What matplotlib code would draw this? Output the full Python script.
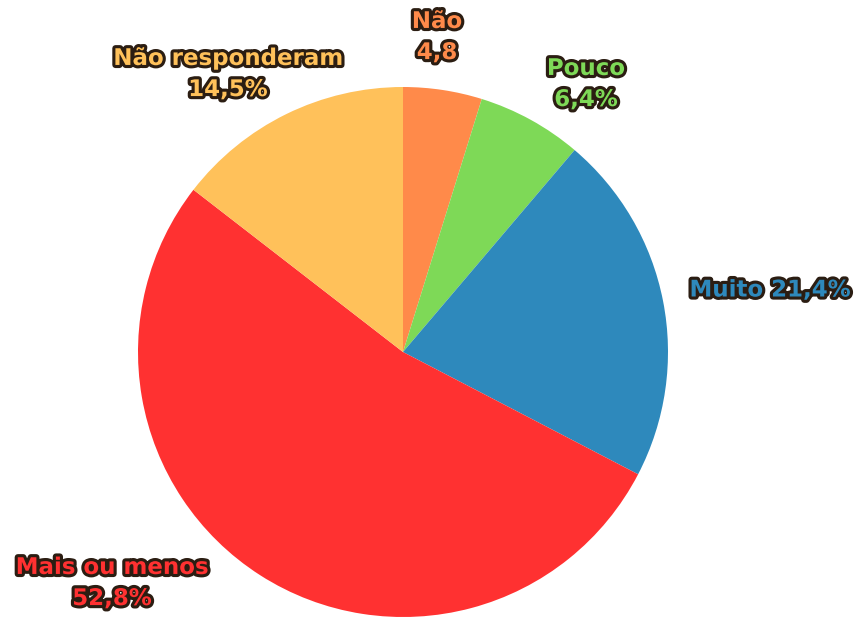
import matplotlib.pyplot as plt
import matplotlib.patheffects as pe

# slices, clockwise from 12 o'clock
labels = ['Não', 'Pouco', 'Muito', 'Mais ou menos', 'Não responderam']
values = [4.8, 6.4, 21.4, 52.8, 14.5]
label_texts = ['Não\n4,8', 'Pouco\n6,4%', 'Muito 21,4%', 'Mais ou menos\n52,8%', 'Não responderam\n14,5%']
colors = ['#FF8A4A', '#7ED957', '#2E89BC', '#FF3131', '#FFC15A']

# label anchor points in figure pixels (from top-left)
label_xy = [(437, 37), (586, 84), (770, 290), (112, 583), (228, 74)]

W, H = 856, 617
fig = plt.figure(figsize=(W / 100, H / 100), dpi=100)
ax = fig.add_axes([0, 0, 1, 1])

ax.pie(values, colors=colors, startangle=90, counterclock=False,
       center=(403, H - 352), radius=265, frame=True,
       wedgeprops=dict(linewidth=0))
ax.set_xlim(0, W)
ax.set_ylim(0, H)
ax.set_aspect('equal')
ax.axis('off')

outline = [pe.withStroke(linewidth=4.5, foreground='#2b1d12')]
for txt, (x, y), c in zip(label_texts, label_xy, colors):
    ax.text(x, H - y, txt, ha='center', va='center', color=c,
            fontsize=16.5, fontweight='bold', family='DejaVu Sans',
            linespacing=1.45, path_effects=outline)

fig.savefig('out.png', dpi=100, facecolor='white')
